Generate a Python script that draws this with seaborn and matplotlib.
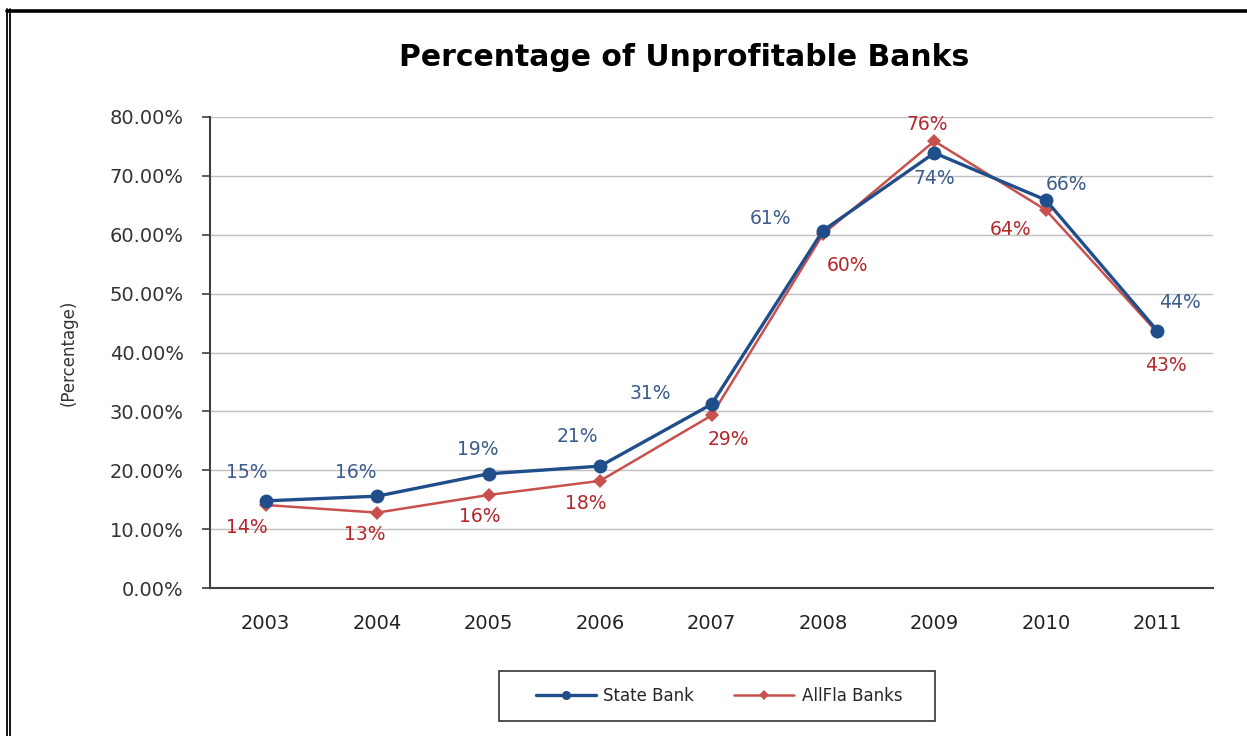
import numpy as np
import pandas as pd
import seaborn as sns
from matplotlib import pyplot as plt
from matplotlib.lines import Line2D
from matplotlib.patches import Rectangle

years = ["2003", "2004", "2005", "2006", "2007", "2008", "2009", "2010", "2011"]
state_bank = [0.148, 0.156, 0.194, 0.207, 0.312, 0.607, 0.739, 0.659, 0.437]
allfla_banks = [0.141, 0.128, 0.158, 0.182, 0.293, 0.601, 0.759, 0.642, 0.434]
state_labels = ["15%", "16%", "19%", "21%", "31%", "61%", "74%", "66%", "44%"]
allfla_labels = ["14%", "13%", "16%", "18%", "29%", "60%", "76%", "64%", "43%"]

# label offsets in pixels (dx, dy downwards)
state_off = [(-19, -28), (-21, -24), (-11, -24), (-23, -30), (-61, -11),
             (-52, -12), (0, 26), (21, -16), (23, -28)]
allfla_off = [(-19, 23), (-12, 22), (-9, 22), (-14, 23), (17, 24),
              (25, 31), (-7, -17), (-35, 19), (9, 33)]

blue = "#1F4E8A"
red = "#C8504D"
blue_txt = "#3B5C8C"
red_txt = "#B5262B"

sns.set_theme(style="white")
plt.rcParams["font.family"] = ["DejaVu Sans"]

df = pd.DataFrame({
    "pos": list(range(len(years))) * 2,
    "value": state_bank + allfla_banks,
    "series": ["State Bank"] * len(years) + ["AllFla Banks"] * len(years),
})

W, H = 1247, 736
fig = plt.figure(figsize=(W / 100, H / 100), dpi=100)
ax = fig.add_axes([210 / W, 1 - 588 / H, 1003 / W, 471 / H])

sns.lineplot(data=df[df.series == "State Bank"], x="pos", y="value", ax=ax,
             color=blue, lw=2.4, marker="o", markersize=10, markeredgewidth=0,
             label="State Bank", zorder=4)
sns.lineplot(data=df[df.series == "AllFla Banks"], x="pos", y="value", ax=ax,
             color=red, lw=1.8, marker="D", markersize=7.5, markeredgewidth=0,
             label="AllFla Banks", zorder=3)

for i in range(len(years)):
    ax.annotate(state_labels[i], (i, state_bank[i]),
                xytext=(state_off[i][0] * 0.72, -state_off[i][1] * 0.72),
                textcoords="offset points", ha="center", va="center",
                fontsize=13.5, color=blue_txt)
    ax.annotate(allfla_labels[i], (i, allfla_banks[i]),
                xytext=(allfla_off[i][0] * 0.72, -allfla_off[i][1] * 0.72),
                textcoords="offset points", ha="center", va="center",
                fontsize=13.5, color=red_txt)

ax.set_xlim(-0.5, len(years) - 0.5)
ax.set_ylim(0, 0.8)
ax.set_yticks(np.arange(0, 0.81, 0.1))
ax.set_yticklabels([f"{v * 100:.2f}%" for v in np.arange(0, 0.81, 0.1)])
ax.set_xticks(range(len(years)))
ax.set_xticklabels(years)
ax.set_xticks(np.arange(-0.5, len(years), 1), minor=True)
ax.tick_params(axis="x", which="major", length=0, pad=19, labelsize=14, labelcolor="#222222")
ax.tick_params(axis="x", which="minor", length=6, width=1.2, color="#404040", direction="out")
ax.tick_params(axis="y", length=6, width=1.2, color="#404040", direction="out",
               pad=13, labelsize=14, labelcolor="#333333", left=True)
ax.grid(axis="y", color="#BFBFBF", lw=1)
ax.set_axisbelow(True)
for s in ["top", "right"]:
    ax.spines[s].set_visible(False)
for s in ["left", "bottom"]:
    ax.spines[s].set_color("#404040")
    ax.spines[s].set_linewidth(1.5)
ax.set_xlabel("")
ax.set_ylabel("(Percentage)", fontsize=12, color="#333333")
ax.yaxis.set_label_coords(-132 / 1003, 0.5)

# legend box below the plot
ax.get_legend().remove()
handles, labels = ax.get_legend_handles_labels()
fig.add_artist(Rectangle((499 / W, 1 - 721 / H), 436 / W, 50 / H, transform=fig.transFigure,
                         facecolor="white", edgecolor="#333333", lw=1.2))
fig.legend(handles, labels, loc="center", ncol=2,
           bbox_to_anchor=(719 / W, 1 - 696 / H),
           frameon=False, fontsize=12, markerscale=0.65,
           handlelength=3.6, columnspacing=2.4, borderpad=0,
           handletextpad=0.45, borderaxespad=0)

fig.text(684 / W, 1 - 57 / H, "Percentage of Unprofitable Banks",
         ha="center", va="center", fontsize=21.5, fontweight="bold", color="black")

# outer frame like the pasted picture
fig.add_artist(Line2D([7 / W, 1], [1 - 10.5 / H] * 2, color="black", lw=2.6,
                      transform=fig.transFigure))
fig.add_artist(Line2D([7 / W] * 2, [0, 1 - 9 / H], color="black", lw=1.3,
                      transform=fig.transFigure))
fig.add_artist(Line2D([10 / W] * 2, [0, 1 - 9 / H], color="black", lw=1.3,
                      transform=fig.transFigure))

fig.savefig("out.png", dpi=100, facecolor="white")
